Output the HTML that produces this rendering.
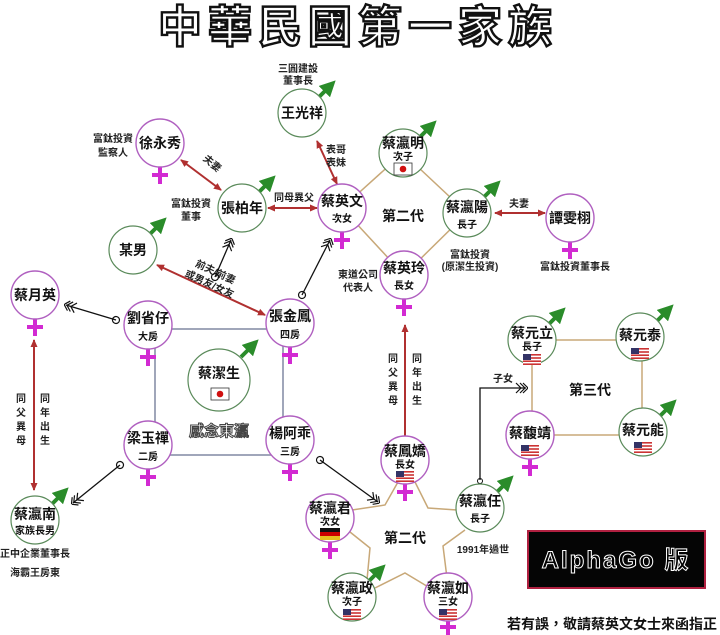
<!DOCTYPE html>
<html><head><meta charset="utf-8"><style>
body{margin:0;background:#fff;}
svg{display:block;font-family:"Liberation Sans","Noto Sans CJK TC",sans-serif;}
.n{font-size:14px;font-weight:bold;text-anchor:middle;fill:#111;}
.s{font-size:10px;font-weight:bold;text-anchor:middle;fill:#111;}
.l{font-size:10px;font-weight:bold;text-anchor:middle;fill:#222;}
.m{fill:#fff;stroke:#5a8a5a;stroke-width:1.2;}
.f{fill:#fff;stroke:#b060c0;stroke-width:1.4;}
.ma{stroke:#2a8c2a;stroke-width:4;fill:none;}
.fe{stroke:#d22ad2;stroke-width:4;}
.red{stroke:#b03030;stroke-width:2;fill:none;}
.blk{stroke:#111;stroke-width:1.3;fill:none;}
.tan{stroke:#c8a878;stroke-width:1.5;fill:none;}
</style></head><body>
<svg width="720" height="635" viewBox="0 0 720 635">
<defs>
<marker id="ar" markerUnits="userSpaceOnUse" markerWidth="8" markerHeight="8" refX="7" refY="4" orient="auto-start-reverse"><path d="M0,0.5 L8,4 L0,7.5 z" fill="#b03030"/></marker>
<marker id="ga" markerWidth="4" markerHeight="4" refX="2" refY="2" orient="auto"><path d="M0,0 L4,2 L0,4 z" fill="#2a8c2a"/></marker>
<marker id="ch" markerUnits="userSpaceOnUse" markerWidth="14" markerHeight="12" refX="12" refY="6" orient="auto"><path d="M2,1 L7,6 L2,11 M6,1 L11,6 L6,11 M9,1 L14,6 L9,11" stroke="#111" fill="none" stroke-width="1.2"/></marker>
<marker id="lp" markerUnits="userSpaceOnUse" markerWidth="12" markerHeight="12" refX="6" refY="6" orient="auto"><circle cx="6" cy="6" r="3.5" fill="none" stroke="#111" stroke-width="1.2"/></marker>
<g id="us"><rect width="18" height="11" fill="#fff"/><rect y="0" width="18" height="1.6" fill="#c33"/><rect y="3.2" width="18" height="1.6" fill="#c33"/><rect y="6.4" width="18" height="1.6" fill="#c33"/><rect y="9.4" width="18" height="1.6" fill="#c33"/><rect width="8" height="6" fill="#336"/></g>
<g id="jp"><rect width="18" height="12" fill="#fff" stroke="#333" stroke-width="0.8"/><circle cx="9" cy="6" r="3.3" fill="#d01010"/></g>
<g id="de"><rect width="20" height="4" fill="#111"/><rect y="4" width="20" height="4" fill="#c00"/><rect y="8" width="20" height="4" fill="#e8c020"/></g>
</defs>

<text x="358" y="42" text-anchor="middle" font-size="44" font-weight="bold" fill="#fff" stroke="#111" stroke-width="2.4" letter-spacing="6" font-family="'Noto Sans CJK TC',sans-serif">中華民國第一家族</text>

<rect x="155" y="329" width="128" height="126" fill="none" stroke="#8890a8" stroke-width="1.6"/>
<polyline class="tan" points="342,208 403,153 467,213 404,275 342,208"/>
<rect x="532" y="340" width="110" height="95" class="tan"/>
<polyline class="tan" points="398,482 385,505 352,510"/>
<polyline class="tan" points="415,482 428,508 457,510"/>
<polyline class="tan" points="465,530 443,546 447,578"/>
<polyline class="tan" points="350,532 370,548 367,580"/>
<polyline class="tan" points="375,588 405,573 430,588"/>

<line class="red" x1="181" y1="160" x2="221" y2="190" marker-start="url(#ar)" marker-end="url(#ar)"/>
<text class="l" transform="translate(210,166) rotate(40)">夫妻</text>
<line class="red" x1="268" y1="208" x2="317" y2="208" marker-start="url(#ar)" marker-end="url(#ar)"/>
<text class="l" x="294" y="201">同母異父</text>
<line class="red" x1="317" y1="141" x2="337" y2="184" marker-start="url(#ar)" marker-end="url(#ar)"/>
<text class="l" x="336" y="153">表哥</text><text class="l" x="336" y="166">表妹</text>
<line class="red" x1="157" y1="265" x2="265" y2="315" marker-start="url(#ar)" marker-end="url(#ar)"/>
<text class="l" transform="translate(214,275) rotate(25)">前夫/前妻</text>
<text class="l" transform="translate(208,287) rotate(25)">或男友/女友</text>
<line class="red" x1="495" y1="213" x2="545" y2="213" marker-start="url(#ar)" marker-end="url(#ar)"/>
<text class="l" x="519" y="207">夫妻</text>
<line class="red" x1="34" y1="340" x2="34" y2="490" marker-start="url(#ar)" marker-end="url(#ar)"/>
<g class="l"><text x="21" y="402">同</text><text x="21" y="416">父</text><text x="21" y="430">異</text><text x="21" y="444">母</text>
<text x="45" y="402">同</text><text x="45" y="416">年</text><text x="45" y="430">出</text><text x="45" y="444">生</text></g>
<line class="red" x1="405" y1="325" x2="405" y2="452" marker-start="url(#ar)" marker-end="url(#ar)"/>
<g class="l"><text x="393" y="362">同</text><text x="393" y="376">父</text><text x="393" y="390">異</text><text x="393" y="404">母</text>
<text x="417" y="362">同</text><text x="417" y="376">年</text><text x="417" y="390">出</text><text x="417" y="404">生</text></g>

<line class="blk" x1="215" y1="277" x2="231" y2="240" marker-start="url(#lp)" marker-end="url(#ch)"/>
<line class="blk" x1="302" y1="295" x2="330" y2="240" marker-start="url(#lp)" marker-end="url(#ch)"/>
<line class="blk" x1="116" y1="320" x2="66" y2="305" marker-start="url(#lp)" marker-end="url(#ch)"/>
<line class="blk" x1="120" y1="465" x2="73" y2="503" marker-start="url(#lp)" marker-end="url(#ch)"/>
<line class="blk" x1="320" y1="460" x2="378" y2="502" marker-start="url(#lp)" marker-end="url(#ch)"/>
<polyline class="blk" points="480,480 480,388 526,388" marker-end="url(#ch)"/>
<circle cx="480" cy="481" r="2.5" fill="none" stroke="#111"/>
<text class="l" x="503" y="382">子女</text>

<g class="ma">
<line x1="318" y1="98" x2="330" y2="86" marker-end="url(#ga)"/>
<line x1="258" y1="193" x2="270" y2="181" marker-end="url(#ga)"/>
<line x1="149" y1="235" x2="161" y2="223" marker-end="url(#ga)"/>
<line x1="419" y1="138" x2="431" y2="126" marker-end="url(#ga)"/>
<line x1="483" y1="198" x2="495" y2="186" marker-end="url(#ga)"/>
<line x1="241" y1="357" x2="253" y2="345" marker-end="url(#ga)"/>
<line x1="51" y1="505" x2="63" y2="493" marker-end="url(#ga)"/>
<line x1="548" y1="325" x2="560" y2="313" marker-end="url(#ga)"/>
<line x1="656" y1="322" x2="668" y2="310" marker-end="url(#ga)"/>
<line x1="659" y1="417" x2="671" y2="405" marker-end="url(#ga)"/>
<line x1="496" y1="493" x2="508" y2="481" marker-end="url(#ga)"/>
<line x1="368" y1="582" x2="380" y2="570" marker-end="url(#ga)"/>
</g>
<g class="fe">
<path d="M160,167 v17 M152,175 h16"/>
<path d="M342,232 v17 M334,240 h16"/>
<path d="M404,299 v17 M396,307 h16"/>
<path d="M570,242 v17 M562,250 h16"/>
<path d="M35,319 v17 M27,327 h16"/>
<path d="M148,349 v17 M140,357 h16"/>
<path d="M290,347 v17 M282,355 h16"/>
<path d="M148,469 v17 M140,477 h16"/>
<path d="M290,464 v17 M282,472 h16"/>
<path d="M530,459 v17 M522,467 h16"/>
<path d="M405,484 v17 M397,492 h16"/>
<path d="M330,542 v17 M322,550 h16"/>
<path d="M448,621 v14 M440,627 h16"/>
</g>

<circle class="m" cx="302" cy="113" r="24"/><text class="n" x="302" y="118">王光祥</text>
<text class="l" x="298" y="72">三圓建設</text><text class="l" x="298" y="84">董事長</text>
<circle class="f" cx="160" cy="143" r="24"/><text class="n" x="160" y="148">徐永秀</text>
<text class="l" x="113" y="142">富鈦投資</text><text class="l" x="113" y="156">監察人</text>
<circle class="m" cx="242" cy="208" r="24"/><text class="n" x="242" y="213">張柏年</text>
<text class="l" x="191" y="207">富鈦投資</text><text class="l" x="191" y="220">董事</text>
<circle class="m" cx="133" cy="250" r="24"/><text class="n" x="133" y="255">某男</text>
<circle class="f" cx="342" cy="208" r="24"/><text class="n" x="342" y="206">蔡英文</text><text class="s" x="342" y="222">次女</text>
<circle class="m" cx="403" cy="153" r="24"/><text class="n" x="403" y="148">蔡瀛明</text><text class="s" x="403" y="160">次子</text><use href="#jp" x="394" y="163"/>
<circle class="m" cx="467" cy="213" r="24"/><text class="n" x="467" y="212">蔡瀛陽</text><text class="s" x="467" y="228">長子</text>
<text class="l" x="470" y="258">富鈦投資</text><text class="l" x="470" y="270">(原潔生投資)</text>
<circle class="f" cx="570" cy="218" r="24"/><text class="n" x="570" y="223">譚雯栩</text>
<text class="l" x="575" y="270">富鈦投資董事長</text>
<circle class="f" cx="404" cy="275" r="24"/><text class="n" x="404" y="273">蔡英玲</text><text class="s" x="404" y="289">長女</text>
<text class="l" x="358" y="278">東道公司</text><text class="l" x="358" y="291">代表人</text>
<text class="n" x="403" y="221">第二代</text>

<circle class="f" cx="35" cy="295" r="24"/><text class="n" x="35" y="300">蔡月英</text>
<circle class="f" cx="148" cy="325" r="24"/><text class="n" x="148" y="323">劉省仔</text><text class="s" x="148" y="340">大房</text>
<circle class="f" cx="290" cy="323" r="24"/><text class="n" x="290" y="321">張金鳳</text><text class="s" x="290" y="338">四房</text>
<circle class="m" cx="219" cy="380" r="31"/><text class="n" x="219" y="378">蔡潔生</text><use href="#jp" x="211" y="388"/>
<text x="219" y="436" text-anchor="middle" font-size="15" font-weight="bold" fill="#fff" stroke="#444" stroke-width="1">感念東瀛</text>
<circle class="f" cx="148" cy="445" r="24"/><text class="n" x="148" y="443">梁玉禪</text><text class="s" x="148" y="460">二房</text>
<circle class="f" cx="290" cy="440" r="24"/><text class="n" x="290" y="438">楊阿乖</text><text class="s" x="290" y="455">三房</text>
<circle class="m" cx="35" cy="520" r="24"/><text class="n" x="35" y="519">蔡瀛南</text><text class="s" x="35" y="534">家族長男</text>
<text class="l" x="35" y="557">正中企業董事長</text><text class="l" x="35" y="576">海霸王房東</text>

<circle class="m" cx="532" cy="340" r="24"/><text class="n" x="532" y="338">蔡元立</text><text class="s" x="532" y="350">長子</text><use href="#us" x="523" y="354"/>
<circle class="m" cx="640" cy="337" r="24"/><text class="n" x="640" y="340">蔡元泰</text><use href="#us" x="631" y="348"/>
<circle class="f" cx="530" cy="435" r="24"/><text class="n" x="530" y="438">蔡馥靖</text><use href="#us" x="521" y="445"/>
<circle class="m" cx="643" cy="432" r="24"/><text class="n" x="643" y="435">蔡元能</text><use href="#us" x="634" y="442"/>
<text class="n" x="590" y="395">第三代</text>

<circle class="f" cx="405" cy="460" r="24"/><text class="n" x="405" y="456">蔡鳳嬌</text><text class="s" x="405" y="468">長女</text><use href="#us" x="396" y="471"/>
<circle class="f" cx="330" cy="518" r="24"/><text class="n" x="330" y="513">蔡瀛君</text><text class="s" x="330" y="525">次女</text><use href="#de" x="320" y="528"/>
<circle class="m" cx="480" cy="508" r="24"/><text class="n" x="480" y="506">蔡瀛任</text><text class="s" x="480" y="522">長子</text>
<text class="l" x="483" y="553">1991年過世</text>
<circle class="m" cx="352" cy="597" r="24"/><text class="n" x="352" y="593">蔡瀛政</text><text class="s" x="352" y="605">次子</text><use href="#us" x="343" y="609"/>
<circle class="f" cx="448" cy="597" r="24"/><text class="n" x="448" y="593">蔡瀛如</text><text class="s" x="448" y="605">三女</text><use href="#us" x="439" y="609"/>
<text class="n" x="405" y="543">第二代</text>

<rect x="528" y="531" width="177" height="57" fill="#050505" stroke="#b02040" stroke-width="2"/>
<text x="616" y="568" text-anchor="middle" font-size="24" font-weight="bold" fill="#000" stroke="#fff" stroke-width="1" letter-spacing="2">AlphaGo 版</text>
<text x="717" y="629" text-anchor="end" font-size="14" font-weight="bold" fill="#111">若有誤，敬請蔡英文女士來函指正</text>
</svg>
</body></html>
